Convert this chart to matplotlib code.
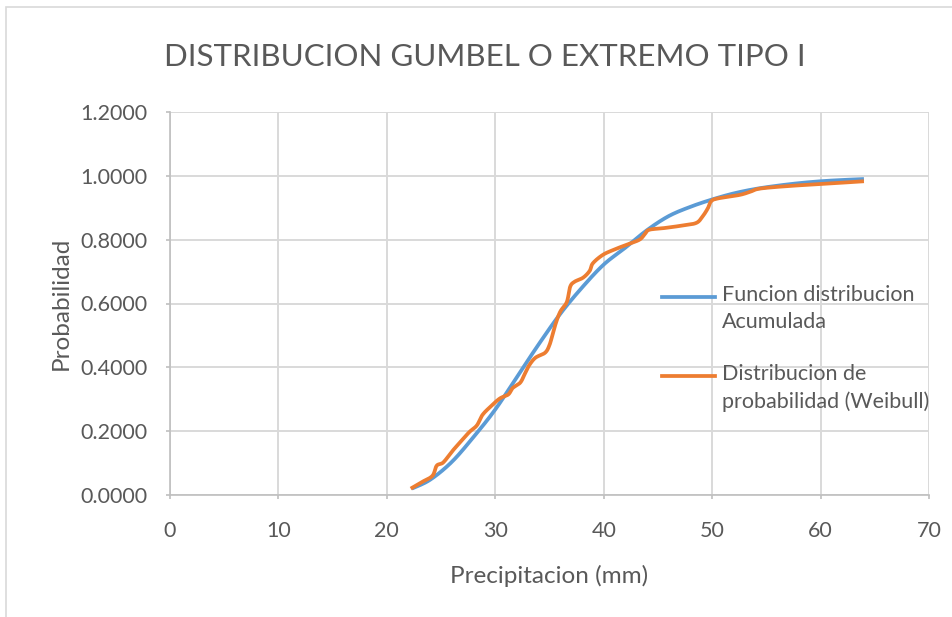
import numpy as np
import matplotlib.pyplot as plt
from matplotlib.lines import Line2D
from matplotlib.patches import Rectangle

plt.rcParams['font.family'] = ['Lato', 'DejaVu Sans']

# Gumbel cumulative distribution
x_gumbel = [22.3, 24, 26, 28, 30, 32, 34, 36, 38, 40, 42, 44, 46, 48, 50,
            52, 54, 56, 58, 60, 62, 64]
p_gumbel = [0.020, 0.048, 0.104, 0.182, 0.268, 0.370, 0.472, 0.568, 0.650,
            0.722, 0.775, 0.830, 0.874, 0.903, 0.926, 0.945, 0.959, 0.969,
            0.977, 0.983, 0.987, 0.990]

x_weibull = [22.2, 23.2, 24.2, 24.6, 25.2, 26.1, 26.7, 27.6, 28.3, 28.8, 29.5,
             30.4, 31.2, 31.6, 32.3, 32.7, 33.1, 33.7, 34.6, 35.0, 35.3, 35.6,
             36.0, 36.6, 36.9, 37.3, 38.1, 38.7, 39.0, 39.9, 40.9, 42.1, 43.3,
             43.8, 44.2, 45.5, 47.0, 48.5, 49.1, 49.6, 49.9, 50.5, 52.5, 53.5,
             54.4, 57.0, 59.9, 64.0]
p_weibull = [0.020, 0.040, 0.060, 0.092, 0.102, 0.140, 0.163, 0.197, 0.218,
             0.250, 0.275, 0.302, 0.315, 0.335, 0.352, 0.378, 0.405, 0.430,
             0.446, 0.470, 0.505, 0.540, 0.575, 0.605, 0.652, 0.668, 0.681,
             0.702, 0.726, 0.752, 0.768, 0.784, 0.800, 0.818, 0.831, 0.836,
             0.843, 0.852, 0.872, 0.898, 0.920, 0.929, 0.940, 0.950, 0.960,
             0.968, 0.974, 0.983]

labels = ['Funcion distribucion\nAcumulada', 'Distribucion de\nprobabilidad (Weibull)']
colors = ['#5B9BD5', '#ED7D31']
text_color = '#595959'
grid_color = '#d9d9d9'


def smooth(x, y, steps=16):
    # Catmull-Rom curve through the points, like Excel's smoothed line
    p = np.column_stack([x, y])
    p = np.vstack([p[0], p, p[-1]])
    out = []
    t = np.linspace(0, 1, steps, endpoint=False)[:, None]
    for i in range(1, len(p) - 2):
        p0, p1, p2, p3 = p[i - 1], p[i], p[i + 1], p[i + 2]
        seg = 0.5 * ((2 * p1) + (-p0 + p2) * t + (2 * p0 - 5 * p1 + 4 * p2 - p3) * t ** 2
                     + (-p0 + 3 * p1 - 3 * p2 + p3) * t ** 3)
        out.append(seg)
    out.append(p[-2][None, :])
    out = np.vstack(out)
    return out[:, 0], out[:, 1]


fig = plt.figure(figsize=(9.52, 6.17), dpi=100)
ax = fig.add_axes([170 / 952, 1 - 495 / 617, (929 - 170) / 952, (495 - 112) / 617])

sx, sy = smooth(x_gumbel, p_gumbel)
ax.plot(sx, sy, color=colors[0], lw=2.7, solid_capstyle='butt', zorder=3)
sx, sy = smooth(x_weibull, p_weibull)
ax.plot(sx, sy, color=colors[1], lw=2.7, solid_capstyle='butt', zorder=4)

ax.set_xlim(0, 70)
ax.set_ylim(0, 1.2)
ax.set_xticks(np.arange(0, 71, 10))
ax.set_yticks(np.arange(0, 1.21, 0.2))
ax.set_yticklabels([f'{v:.4f}' for v in np.arange(0, 1.21, 0.2)])
ax.grid(True, color=grid_color, lw=1.4, zorder=0)
ax.set_axisbelow(True)
for side in ['top', 'right']:
    ax.spines[side].set_visible(False)
for side in ['left', 'bottom']:
    ax.spines[side].set_color('#bfbfbf')
    ax.spines[side].set_linewidth(1.2)
ax.tick_params(colors='#bfbfbf', labelcolor=text_color, labelsize=15.5,
               length=3, width=1.2)
ax.tick_params(axis='x', pad=16)
ax.tick_params(axis='y', pad=13)

ax.set_xlabel('Precipitacion (mm)', fontsize=17.5, color=text_color, labelpad=17)
ax.set_ylabel('Probabilidad', fontsize=17.5, color=text_color, labelpad=6)

fig.text(485 / 952, 1 - 57 / 617, 'DISTRIBUCION GUMBEL O EXTREMO TIPO I',
         fontsize=22.5, color=text_color, ha='center', va='center')

# legend drawn by hand so the line sits on the first text line
for i, (lab, col) in enumerate(zip(labels, colors)):
    yl = [297, 376][i]
    fig.add_artist(Line2D([662 / 952, 715 / 952], [1 - yl / 617] * 2,
                          color=col, lw=2.7, transform=fig.transFigure))
    fig.text(722 / 952, 1 - (yl - 12) / 617, lab, fontsize=15.5, color=text_color,
             ha='left', va='top', linespacing=1.45)

# chart area border
fig.add_artist(Rectangle((6 / 952, -0.1), 2, 1.1 - 7 / 617, transform=fig.transFigure,
                         fill=False, edgecolor=grid_color, lw=1.2))

fig.savefig('out.png', dpi=100)
